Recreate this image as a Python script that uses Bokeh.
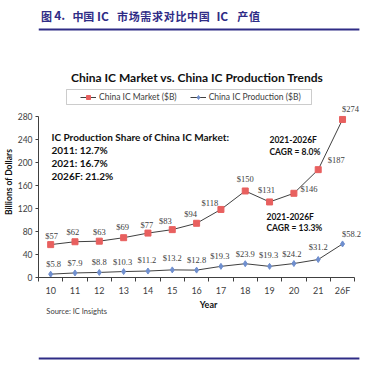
import math
from bokeh.plotting import figure
from bokeh.layouts import column
from bokeh.models import (Label, LabelSet, ColumnDataSource, FixedTicker, Legend,
                          LegendItem, BoxAnnotation, Range1d)
from bokeh.embed import file_html
from bokeh.resources import INLINE

# ---------------- data ----------------
years = ["10", "11", "12", "13", "14", "15", "16", "17", "18", "19", "20", "21", "26F"]
market = [57, 62, 63, 69, 77, 83, 94, 118, 150, 131, 146, 187, 274]
production = [5.8, 7.9, 8.8, 10.3, 11.2, 13.2, 12.8, 19.3, 23.9, 19.3, 24.2, 31.2, 58.2]
y_ticks = [0, 40, 80, 120, 160, 200, 240, 280]

market_text = ["$%d" % v for v in market]
production_text = ["$%.1f" % v for v in production]

# label placement (style only: px offsets from each point)
m_dx = [1, -2, 0, -1, -1, -7, -6, -11, 0, -3, 15, 18, 8]
m_dy = [9, 10, 9, 11, 8, 9, 9, 6, 12, 12, 4, 10, 10]
p_dx = [3, 0, 0, -1, -1, 0, 0, -1, 0, -1, -2, 0, 9]
p_dy = [10, 10, 10, 10, 11, 12, 10, 10, 10, 11, 10, 13, 10]

FONT = "Lato"
CJK = "Noto Sans CJK SC"
TXT = "#404040"
DARK = "#111111"
NAVY = "#2F2C86"
RED = "#E8605F"
BLUE = "#6F8FCF"

WIDTH = 375
TOP_H = 86            # header strip (page y 0..86)
FRAME_TOP, FRAME_BOTTOM = 86, 277
FRAME_LEFT, AXIS_RIGHT, FRAME_RIGHT = 32, 354, 365
BOTTOM_PANEL = 21
MAIN_H = FRAME_BOTTOM - FRAME_TOP + BOTTOM_PANEL
FOOT_TOP = TOP_H + MAIN_H
FOOT_H = 365 - FOOT_TOP

n = len(years)
px_per_cat = (AXIS_RIGHT - FRAME_LEFT) / n
px_per_unit = (FRAME_BOTTOM - 115.5) / 280.0
x_end = -0.5 + (FRAME_RIGHT - FRAME_LEFT) / px_per_cat
y_end = (FRAME_BOTTOM - FRAME_TOP) / px_per_unit


def blank_fig(h):
    f = figure(width=WIDTH, height=h, output_backend="svg", toolbar_location=None,
               x_range=Range1d(0, WIDTH), y_range=Range1d(0, h),
               x_axis_type=None, y_axis_type=None,
               min_border_left=0, min_border_right=0, min_border_top=0, min_border_bottom=0)
    f.outline_line_color = None
    f.xgrid.visible = False
    f.ygrid.visible = False
    return f


def put(fig, h, top, txt, X, Y, size="9px", bold=False, align="left", color=TXT, font=FONT):
    fig.add_layout(Label(x=X, y=h - (Y - top), text=txt, text_font=font, text_font_size=size,
                         text_color=color, text_font_style="bold" if bold else "normal",
                         text_align=align, text_baseline="middle"))


def bar(fig, h, top, l, r, t, b, color):
    fig.add_layout(BoxAnnotation(left=l, right=r, top=h - (t - top), bottom=h - (b - top),
                                 fill_color=color, fill_alpha=1, line_color=None))


# ---------------- header strip ----------------
head = blank_fig(TOP_H)
words = ["图", "4.", "中国", "IC", "市场需求对比中国", "IC", "产值"]
starts = [3, 18, 39, 67, 90, 204, 228]
for w, s in zip(words, starts):
    if w.isascii():
        put(head, TOP_H, 0, w, s, 15, size="12px", bold=True, color=NAVY, font=CJK)
    else:
        pitch = 12.2 if s < 60 else 13.4
        for i, ch in enumerate(w):
            put(head, TOP_H, 0, ch, s + i * pitch, 15, size="11px", bold=True, color=NAVY, font=CJK)
bar(head, TOP_H, 0, 0, 368, 28, 30, NAVY)
put(head, TOP_H, 0, "China IC Market vs. China IC Production Trends", 182, 77, size="12px",
    bold=True, align="center", color=DARK)

# ---------------- main chart ----------------
p = figure(width=WIDTH, height=MAIN_H, output_backend="svg", toolbar_location=None,
           x_range=Range1d(-0.5, x_end), y_range=Range1d(0, y_end),
           min_border_left=FRAME_LEFT, min_border_right=WIDTH - FRAME_RIGHT,
           min_border_top=0, min_border_bottom=BOTTOM_PANEL)
p.outline_line_color = None
p.xgrid.visible = False
p.ygrid.visible = False

x = list(range(n))

p.yaxis.ticker = FixedTicker(ticks=y_ticks)
p.yaxis.bounds = (0, 280)
p.yaxis.major_tick_out = 3
p.yaxis.major_tick_in = 0
p.yaxis.minor_tick_out = 0
p.yaxis.minor_tick_in = 0
p.yaxis.major_label_standoff = 3
p.yaxis.axis_label = "Billions of Dollars"
p.yaxis.axis_label_standoff = 1
p.yaxis.axis_label_text_font = FONT
p.yaxis.axis_label_text_font_size = "8.5px"
p.yaxis.axis_label_text_font_style = "bold"
p.yaxis.axis_label_text_color = DARK

p.xaxis.ticker = FixedTicker(ticks=x, minor_ticks=[i - 0.5 for i in range(n + 1)])
p.xaxis.major_label_overrides = {i: years[i] for i in x}
p.xaxis.bounds = (-0.5, n - 0.5)
p.xaxis.major_tick_out = 0
p.xaxis.major_tick_in = 0
p.xaxis.minor_tick_out = 4
p.xaxis.minor_tick_in = 0
p.xaxis.major_label_standoff = 3
for ax in (p.xaxis[0], p.yaxis[0]):
    ax.axis_line_color = TXT
    ax.major_tick_line_color = TXT
    ax.minor_tick_line_color = TXT
    ax.major_label_text_font = FONT
    ax.major_label_text_font_size = "9px"
    ax.major_label_text_color = TXT
p.yaxis.major_label_text_font_size = "8.5px"

ml = p.line(x, market, line_color="#404040", line_width=1)
ms = p.scatter(x, market, marker="square", size=6, fill_color=RED, line_color=RED)
pl = p.line(x, production, line_color="#404040", line_width=1)
ps = p.scatter(x, production, marker="diamond", size=6, fill_color=BLUE, line_color=BLUE)

msrc = ColumnDataSource(dict(x=x, y=market, t=market_text, dx=m_dx, dy=m_dy))
psrc = ColumnDataSource(dict(x=x, y=production, t=production_text, dx=p_dx, dy=p_dy))
for src in (msrc, psrc):
    p.add_layout(LabelSet(x="x", y="y", text="t", source=src, x_offset="dx", y_offset="dy",
                          text_align="center", text_baseline="middle", text_font=FONT,
                          text_font_size="8.5px", text_color=TXT))


def lab(txt, X, Y, size="9px", bold=False, align="left", color=TXT):
    p.add_layout(Label(x=X - FRAME_LEFT, y=FRAME_BOTTOM - Y, x_units="screen", y_units="screen",
                       text=txt, text_font=FONT, text_font_size=size, text_color=color,
                       text_font_style="bold" if bold else "normal", text_align=align,
                       text_baseline="middle"))


# legend with frame box
p.add_layout(BoxAnnotation(left=60 - FRAME_LEFT, right=305 - FRAME_LEFT,
                           top=FRAME_BOTTOM - 89, bottom=FRAME_BOTTOM - 104,
                           left_units="screen", right_units="screen", top_units="screen",
                           bottom_units="screen", fill_alpha=0, line_color="#555555",
                           line_width=1))
legend = Legend(items=[LegendItem(label="China IC Market ($B)", renderers=[ml, ms]),
                       LegendItem(label="China IC Production ($B)", renderers=[pl, ps])],
                orientation="horizontal", location=(74 - FRAME_LEFT, FRAME_BOTTOM - 102),
                border_line_color=None, background_fill_alpha=0, glyph_width=16,
                glyph_height=10, label_text_font=FONT, label_text_font_size="8.5px",
                label_text_color=TXT, label_standoff=3, spacing=13, padding=0, margin=0,
                label_height=10)
p.add_layout(legend)

lab("IC Production Share of China IC Market:", 45, 136, size="10px", bold=True, color=DARK)
lab("2011: 12.7%", 45, 149, size="10px", bold=True, color=DARK)
lab("2021: 16.7%", 45, 162, size="10px", bold=True, color=DARK)
lab("2026F: 21.2%", 45, 175, size="10px", bold=True, color=DARK)
lab("2021-2026F", 263, 139, size="8.5px", bold=True, color=DARK)
lab("CAGR = 8.0%", 263, 151, size="8.5px", bold=True, color=DARK)
lab("2021-2026F", 260, 216, size="8.5px", bold=True, color=DARK)
lab("CAGR = 13.3%", 260, 227, size="8.5px", bold=True, color=DARK)

# ---------------- footer ----------------
foot = blank_fig(FOOT_H)
put(foot, FOOT_H, FOOT_TOP, "Year", 195, 304, size="9px", bold=True, align="center", color=DARK)
put(foot, FOOT_H, FOOT_TOP, "Source: IC Insights", 9, 311, size="7.5px", color=TXT)
bar(foot, FOOT_H, FOOT_TOP, 0, 368, 357, 359, NAVY)

layout = column(head, p, foot, spacing=0)
open("out.html", "w").write(file_html(layout, INLINE))
